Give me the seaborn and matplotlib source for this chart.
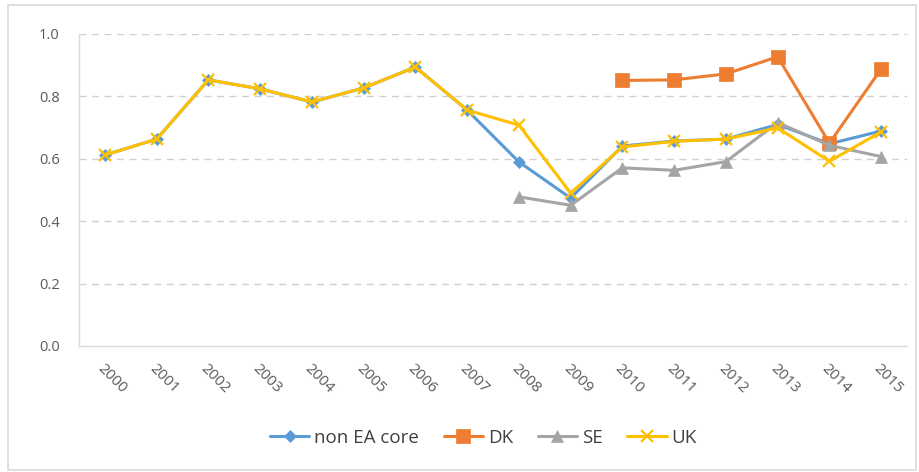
import numpy as np
import pandas as pd
import seaborn as sns
import matplotlib.pyplot as plt
from matplotlib.patches import Rectangle

years = list(range(2000, 2016))
non_ea_core = [0.612, 0.663, 0.853, 0.824, 0.782, 0.827, 0.894, 0.756,
               0.590, 0.474, 0.641, 0.657, 0.663, 0.710, 0.648, 0.689]
dk = [None] * 10 + [0.851, 0.853, 0.872, 0.927, 0.650, 0.888]
se = [None] * 8 + [0.478, 0.451, 0.571, 0.563, 0.591, 0.716, 0.643, 0.607]
uk = [0.612, 0.663, 0.853, 0.824, 0.782, 0.827, 0.894, 0.756,
      0.708, 0.490, 0.638, 0.656, 0.663, 0.699, 0.592, 0.686]

series_names = ["non EA core", "DK", "SE", "UK"]
series_values = [non_ea_core, dk, se, uk]
colors = ["#5B9BD5", "#ED7D31", "#A5A5A5", "#FFC000"]
markers = ["D", "s", "^", "x"]
marker_sizes = [6, 10, 8, 9]

sns.set_theme(style="white")
plt.rcParams["font.family"] = ["Open Sans", "DejaVu Sans"]

fig = plt.figure(figsize=(9.19, 4.72), dpi=100)
ax = fig.add_axes([0.086, 0.267, 0.901, 0.661])

rows = []
for name, vals in zip(series_names, series_values):
    for yr, v in zip(years, vals):
        rows.append({"year": yr, "value": np.nan if v is None else v, "series": name})
df = pd.DataFrame(rows)

for name, col, mk, ms in zip(series_names, colors, markers, marker_sizes):
    sub = df[df["series"] == name].dropna()
    sns.lineplot(data=sub, x="year", y="value", ax=ax, color=col, lw=2.2,
                 marker=mk, markersize=ms, markeredgecolor=col,
                 markeredgewidth=1.6 if mk == "x" else 0.5,
                 label=name, legend=False)

ax.set_xlim(1999.5, 2015.5)
ax.set_ylim(0, 1.0)
ax.set_yticks(np.arange(0, 1.01, 0.2))
ax.set_yticklabels([f"{t:.1f}" for t in np.arange(0, 1.01, 0.2)])
ax.set_xticks(years)
ax.set_xticklabels([str(y) for y in years], rotation=-45, ha="left",
                   rotation_mode="anchor")
ax.tick_params(axis="both", colors="#595959", length=0)
ax.tick_params(axis="x", pad=11, labelsize=11)
ax.tick_params(axis="y", pad=14, labelsize=10.5)
ax.set_xlabel("")
ax.set_ylabel("")

for y in np.arange(0.2, 1.01, 0.2):
    ax.axhline(y, color="#D0D0D0", lw=1.0, ls=(0, (5, 4)), zorder=0)

for side in ["top", "right"]:
    ax.spines[side].set_visible(False)
for side in ["left", "bottom"]:
    ax.spines[side].set_color("#D9D9D9")
    ax.spines[side].set_linewidth(1.0)

handles, labels = ax.get_legend_handles_labels()
fig.legend(handles, labels, loc="center", bbox_to_anchor=(0.526, 0.073),
           ncol=4, frameon=False, fontsize=13.5, handlelength=2.1,
           columnspacing=1.3, handletextpad=0.27, labelcolor="#404040")

fig.patches.append(Rectangle((0.009, 0.004), 0.988, 0.985, transform=fig.transFigure,
                             fill=False, edgecolor="#D9D9D9", lw=1.2))

fig.savefig("out.png", dpi=100)
